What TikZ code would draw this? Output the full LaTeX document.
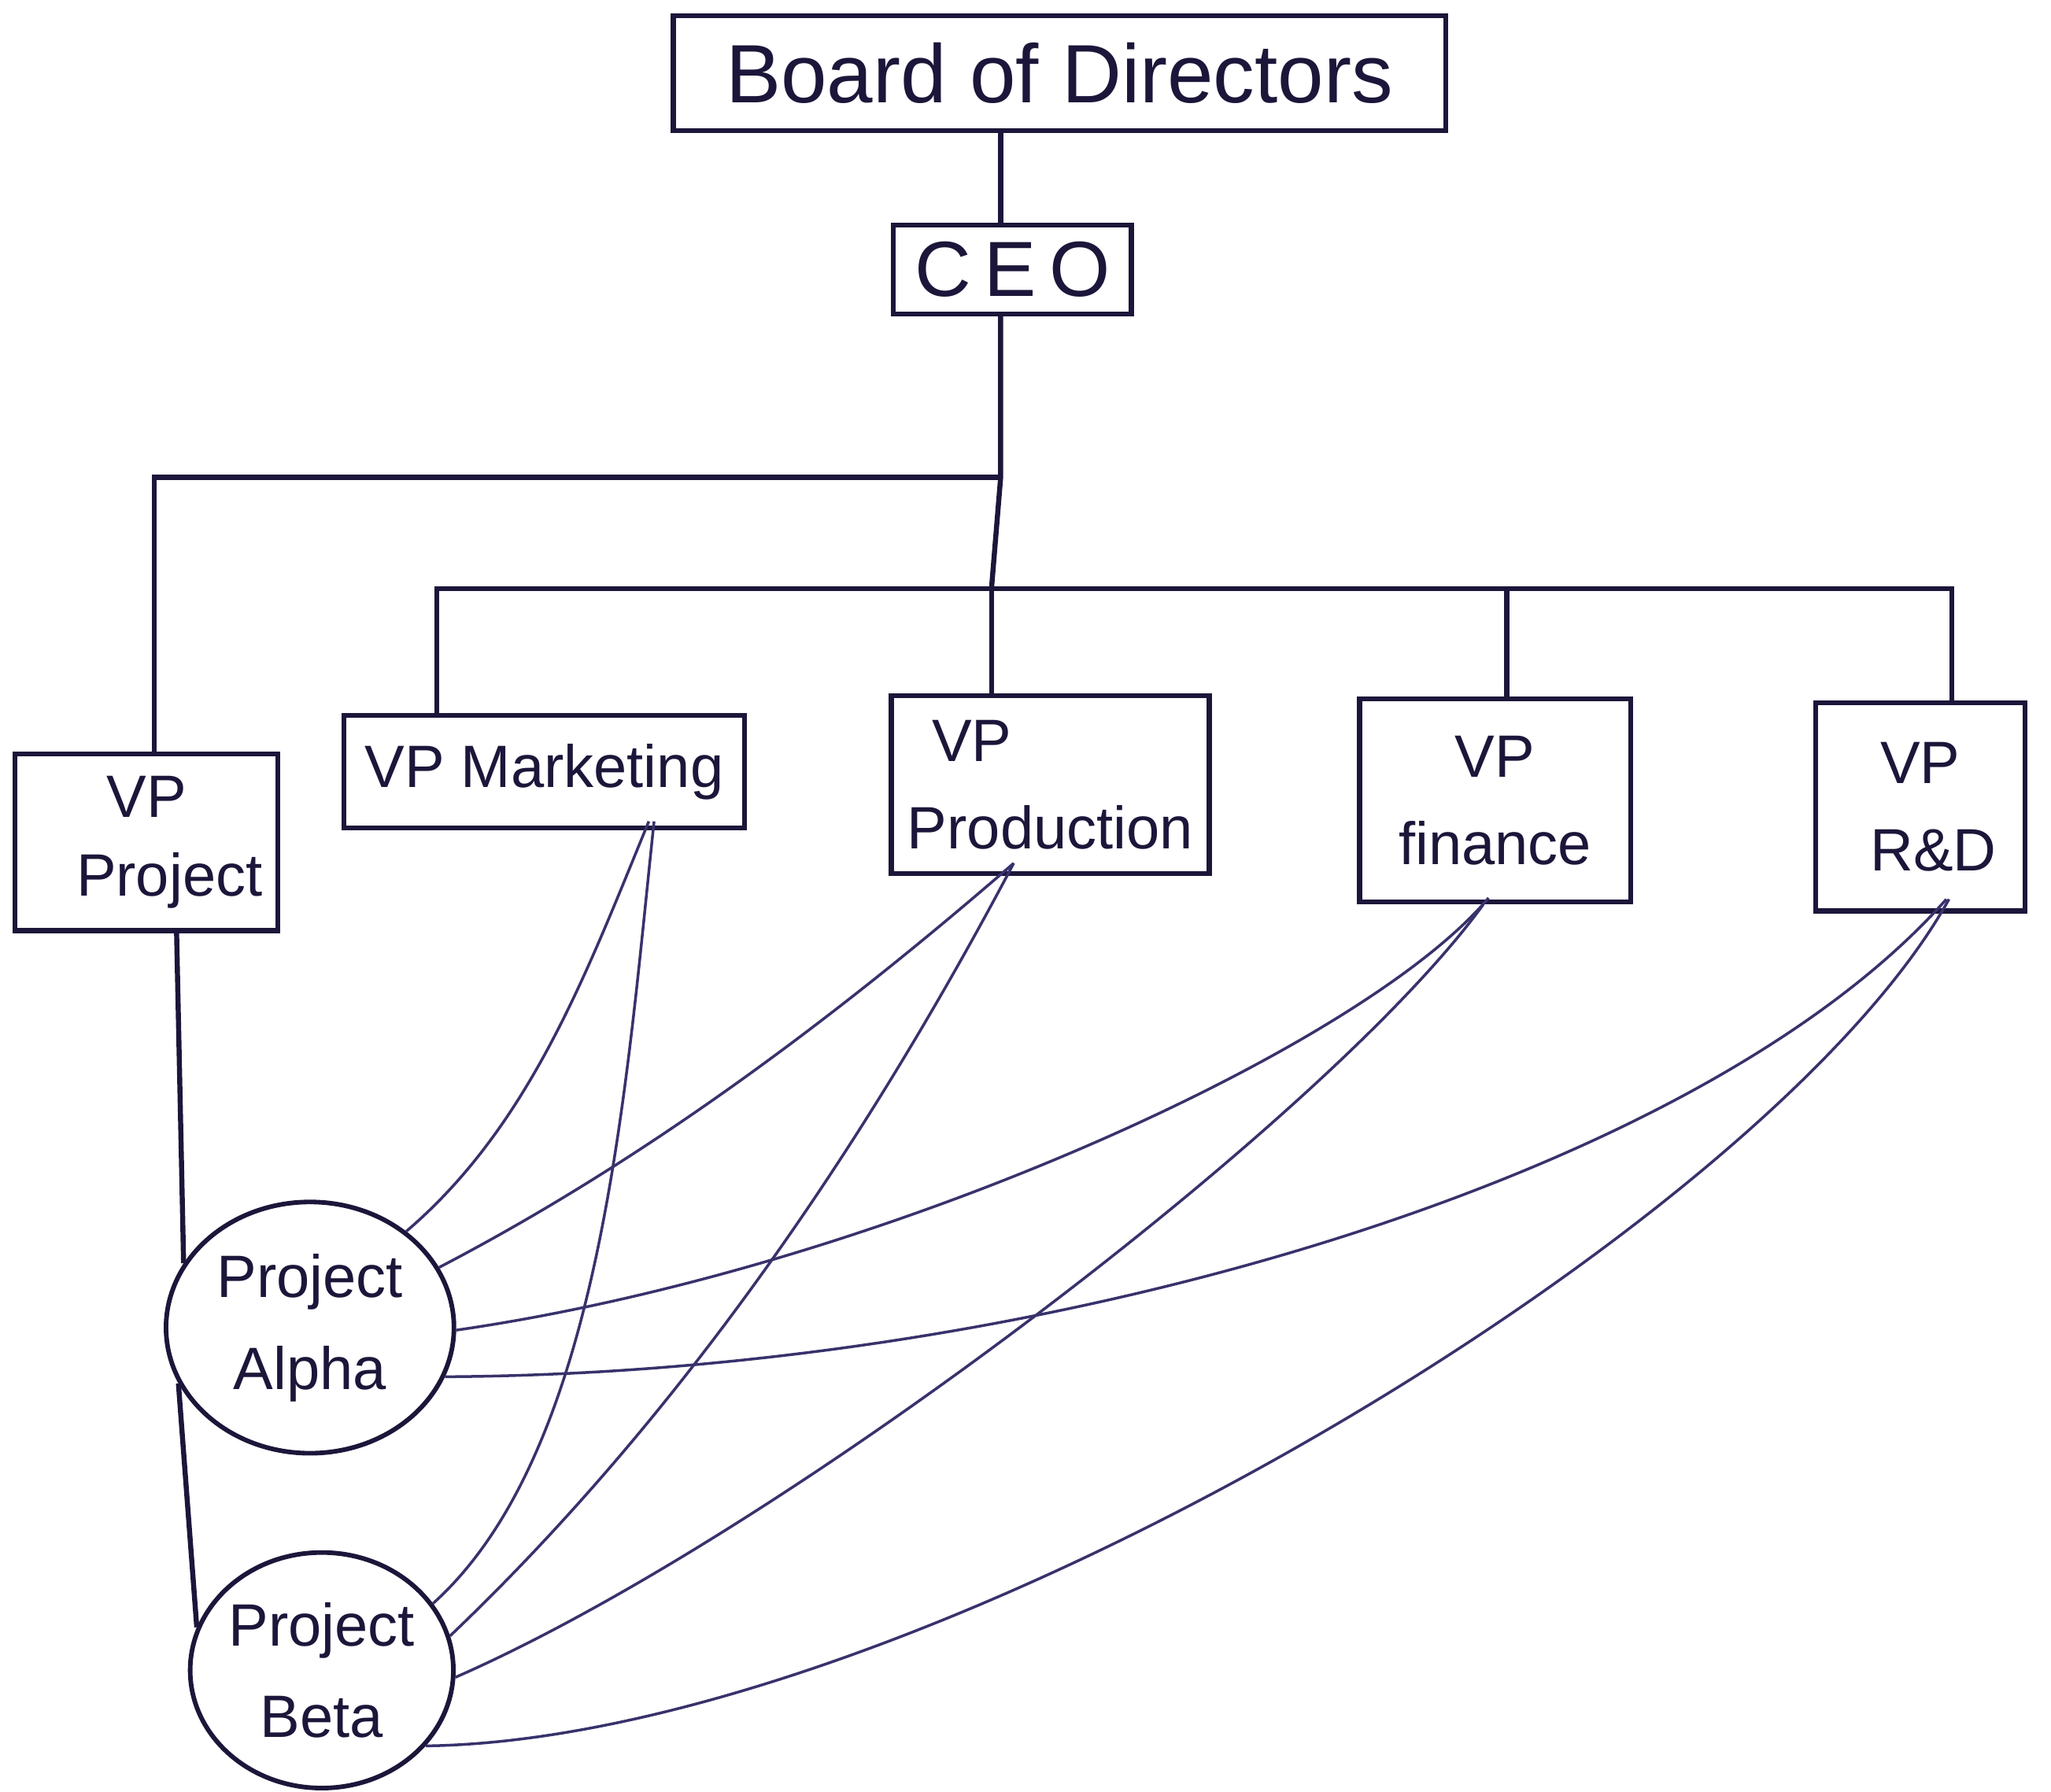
\documentclass[tikz,border=0pt]{standalone}
\usepackage{fontspec}
\setmainfont{Liberation Sans}
\usetikzlibrary{shapes.geometric}
\definecolor{ink}{RGB}{28,22,58}
\definecolor{thinink}{RGB}{56,50,108}

\begin{document}
\begin{tikzpicture}[x=0.01cm,y=-0.01cm,
  box/.style={draw=ink, line width=1.1pt, inner sep=0pt, align=center, text=ink,
              font=\fontsize{13}{19}\selectfont},
  proj/.style={draw=ink, ellipse, line width=1pt, inner sep=0pt, align=center, text=ink,
               font=\fontsize{13}{20}\selectfont},
  link/.style={draw=ink, line width=1.1pt},
  cross/.style={draw=thinink, line width=0.6pt}]
\useasboundingbox[fill=white] (0,0) rectangle (1568,1370);

% top of the hierarchy
\node[box, minimum width=5.90cm, minimum height=0.88cm, font=\fontsize{18}{22}\selectfont] (board) at (810,56) {Board of Directors};
\node[box, minimum width=1.82cm, minimum height=0.68cm, font=\fontsize{17}{22}\selectfont] (ceo) at (774,206) {C\,E\,O};

% vice presidents
\node[box, minimum width=2.01cm, minimum height=1.35cm] (vpproj) at (112,644) {VP\\[-2pt]\hspace*{0.35cm}Project};
\node[box, minimum width=3.06cm, minimum height=0.86cm] (vpmark) at (416,590) {VP Marketing};
\node[box, minimum width=2.43cm, minimum height=1.36cm] (vpprod) at (803,600) {VP\hspace*{1.2cm}\\Production};
\node[box, minimum width=2.07cm, minimum height=1.55cm] (vpfin) at (1143,612) {VP\\finance};
\node[box, minimum width=1.60cm, minimum height=1.59cm] (vprd) at (1468,617) {VP\\\hspace*{0.2cm}R\&D};

% projects
\node[proj, minimum width=2.20cm, minimum height=1.92cm] (alpha) at (237,1015) {Project\\Alpha};
\node[proj, minimum width=1.92cm, minimum height=1.80cm] (beta) at (246,1277) {Project\\Beta};

% reporting lines
\coordinate (jtop) at (765,365);
\coordinate (jbus) at (758,450);
\draw[link] (board.south -| jtop) -- (ceo.north -| jtop);
\draw[link] (ceo.south -| jtop) -- (jtop) -- (jbus);
\draw[link] (jtop) -| ([xshift=0.06cm]vpproj.north);
\draw[link] ([xshift=0.73cm]vpmark.north west) |- (jbus) -| ([xshift=0.24cm]vprd.north);
\draw[link] (jbus) -- (jbus |- vpprod.north);
\draw[link] ([xshift=0.09cm]vpfin.north) |- (jbus);

% project line
\draw[link] ([xshift=0.23cm]vpproj.south) -- (alpha.153);
\draw[link] (alpha.203) -- (beta.161);

% functional lines to the projects
\draw[cross] ([xshift=0.80cm,yshift=0.07cm]vpmark.south) .. controls (449,742) and (406,860) .. (alpha.45);
\draw[cross] ([xshift=0.84cm,yshift=0.07cm]vpmark.south) .. controls (478,835) and (460,1110) .. (beta.31);
\draw[cross] ([xshift=-0.28cm,yshift=0.10cm]vpprod.south) .. controls (640,777) and (495,886) .. (alpha.25);
\draw[cross] ([xshift=-0.28cm,yshift=0.10cm]vpprod.south) .. controls (660,878) and (519,1084) .. (beta.15);
\draw[cross] ([xshift=-0.05cm,yshift=0.05cm]vpfin.south) .. controls (1043,800) and (674,970) .. (alpha.-1);
\draw[cross] ([xshift=-0.09cm]vpfin.south) .. controls (1018,852) and (598,1173) .. (beta.-3);
\draw[cross] ([xshift=0.20cm,yshift=0.11cm]vprd.south) .. controls (1300,900) and (800,1050) .. (alpha.-20);
\draw[cross] ([xshift=0.22cm,yshift=0.11cm]vprd.south) .. controls (1350,940) and (700,1330) .. (beta.-36);
\end{tikzpicture}
\end{document}
